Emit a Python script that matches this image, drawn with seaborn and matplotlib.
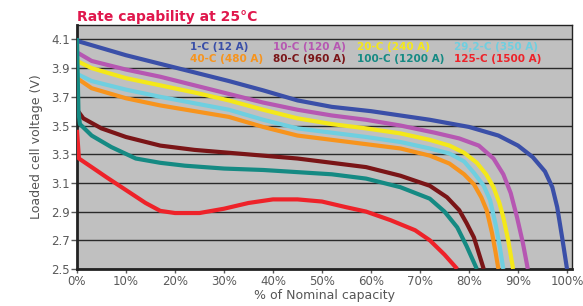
import matplotlib
matplotlib.use("Agg")
import matplotlib.pyplot as plt
import seaborn as sns
import pandas as pd

# data (% of nominal capacity, loaded cell voltage)
labels = ["1-C (12 A)", "10-C (120 A)", "20-C (240 A)", "29,2-C (350 A)",
          "40-C (480 A)", "80-C (960 A)", "100-C (1200 A)", "125-C (1500 A)"]
colors = ["#3a4fa8", "#b657b2", "#f4e81a", "#6fcfe0",
          "#f7941d", "#7a1517", "#158a83", "#ee2229"]

x_1c = [0, 5, 10, 17, 24, 31, 38, 45, 52, 60, 66, 72, 80, 86, 90, 93, 95.5, 97, 98, 99, 100]
v_1c = [4.09, 4.04, 3.99, 3.93, 3.87, 3.81, 3.745, 3.675, 3.63, 3.60, 3.57, 3.54, 3.49, 3.43,
        3.36, 3.28, 3.18, 3.07, 2.93, 2.72, 2.5]
x_10c = [0, 3, 10, 17, 24, 31, 38, 45, 52, 59, 66, 73, 78, 82, 85, 87, 88.5, 89.8, 91, 92]
v_10c = [4.01, 3.95, 3.89, 3.84, 3.78, 3.72, 3.66, 3.61, 3.57, 3.54, 3.50, 3.45, 3.41, 3.36,
         3.27, 3.16, 3.03, 2.86, 2.68, 2.5]
x_20c = [0, 3, 10, 17, 24, 31, 38, 45, 52, 59, 66, 72, 76, 79, 81.6, 83.5, 85, 86.2, 87, 88, 89]
v_20c = [3.95, 3.90, 3.83, 3.78, 3.73, 3.675, 3.61, 3.55, 3.51, 3.48, 3.445, 3.40, 3.36, 3.31,
         3.24, 3.16, 3.07, 2.96, 2.86, 2.7, 2.5]
x_29c = [0, 3, 10, 17, 24, 31, 38, 45, 52, 59, 66, 72, 76, 79, 81, 83, 84.3, 85.5, 86.3, 87]
v_29c = [3.86, 3.81, 3.75, 3.70, 3.655, 3.61, 3.54, 3.48, 3.45, 3.42, 3.385, 3.34, 3.305, 3.25,
         3.17, 3.08, 2.98, 2.8, 2.65, 2.5]
x_40c = [0, 3, 10, 17, 24, 31, 38, 45, 52, 59, 66, 72, 76, 79, 81, 82.5, 83.6, 84.7, 85.4, 86]
v_40c = [3.83, 3.76, 3.69, 3.64, 3.60, 3.56, 3.49, 3.43, 3.40, 3.37, 3.34, 3.29, 3.235, 3.16,
         3.09, 3.0, 2.91, 2.75, 2.62, 2.5]
x_80c = [0, 1.3, 5, 10, 17, 24, 31, 38, 45, 52, 59, 66, 72, 75.5, 78, 79.5, 81, 82, 83]
v_80c = [3.61, 3.55, 3.48, 3.42, 3.36, 3.33, 3.31, 3.29, 3.27, 3.24, 3.21, 3.15, 3.08, 3.0,
         2.91, 2.82, 2.72, 2.61, 2.5]
x_100c = [0, 0.3, 0.6, 3, 7, 12, 17, 22, 30, 38, 45, 52, 59, 66, 72, 75, 77.6, 79.5, 81.6]
v_100c = [4.11, 3.6, 3.51, 3.43, 3.35, 3.27, 3.24, 3.22, 3.2, 3.19, 3.175, 3.16, 3.13, 3.07,
          2.99, 2.9, 2.79, 2.66, 2.5]
x_125c = [0, 0.4, 3, 6, 10, 14, 17, 20, 25, 30, 35, 40, 45, 50, 55, 59, 64, 69, 72, 75, 77.6]
v_125c = [3.47, 3.27, 3.21, 3.14, 3.05, 2.96, 2.905, 2.89, 2.89, 2.92, 2.96, 2.985, 2.985, 2.97,
          2.93, 2.90, 2.84, 2.77, 2.7, 2.6, 2.5]

xs = [x_1c, x_10c, x_20c, x_29c, x_40c, x_80c, x_100c, x_125c]
vs = [v_1c, v_10c, v_20c, v_29c, v_40c, v_80c, v_100c, v_125c]

x_ticks = list(range(0, 101, 10))
y_ticks = [2.5, 2.7, 2.9, 3.1, 3.3, 3.5, 3.7, 3.9, 4.1]

frames = []
for lab, x, v in zip(labels, xs, vs):
    frames.append(pd.DataFrame({"capacity": x, "voltage": v, "rate": lab}))
df = pd.concat(frames, ignore_index=True)

sns.set_style("ticks")
plt.rcParams["font.family"] = ["DejaVu Sans"]

fig = plt.figure(figsize=(5.83, 3.06), dpi=100)
ax = fig.add_axes([0.132, 0.121, 0.849, 0.797])
ax.set_facecolor("#c0c0c0")

sns.lineplot(data=df, x="capacity", y="voltage", hue="rate", hue_order=labels,
             palette=colors, sort=False, estimator=None, linewidth=3.0, ax=ax,
             legend=False, zorder=3, solid_capstyle="butt")

ax.set_xlim(0, 101)
ax.set_ylim(2.5, 4.2)
ax.set_xticks(x_ticks)
ax.set_xticklabels([f"{t}%" for t in x_ticks])
ax.set_yticks(y_ticks)
ax.set_yticklabels([f"{t:.1f}" for t in y_ticks])
ax.grid(axis="y", color="#2a2a2a", linewidth=1.0, zorder=1)
ax.tick_params(colors="#5a5a5a", labelsize=8.5, length=4, width=1, pad=1)
ax.tick_params(axis="x", length=3)
for s in ax.spines.values():
    s.set_color("#222222")
    s.set_linewidth(1.0)
ax.spines["left"].set_linewidth(2)
ax.spines["bottom"].set_linewidth(2)

ax.set_xlabel("% of Nominal capacity", color="#555555", fontsize=9, labelpad=1)
ax.set_ylabel("Loaded cell voltage (V)", color="#555555", fontsize=9, labelpad=6)
ax.set_title("Rate capability at 25°C", loc="left", color="#e0174c",
             fontsize=10, fontweight="bold", pad=3)

# legend: coloured text only, two rows of four
order = [0, 4, 1, 5, 2, 6, 3, 7]
handles = [plt.Line2D([], [], color=colors[i]) for i in order]
leg = ax.legend(handles, [labels[i] for i in order], ncol=4, loc="upper left",
                bbox_to_anchor=(0.228, 0.93), frameon=False, handlelength=0,
                handletextpad=0, columnspacing=1.0, labelspacing=0.15,
                borderpad=0, borderaxespad=0,
                labelcolor="linecolor", prop={"size": 7.5, "weight": "bold"})

fig.savefig("out.png", dpi=100)
